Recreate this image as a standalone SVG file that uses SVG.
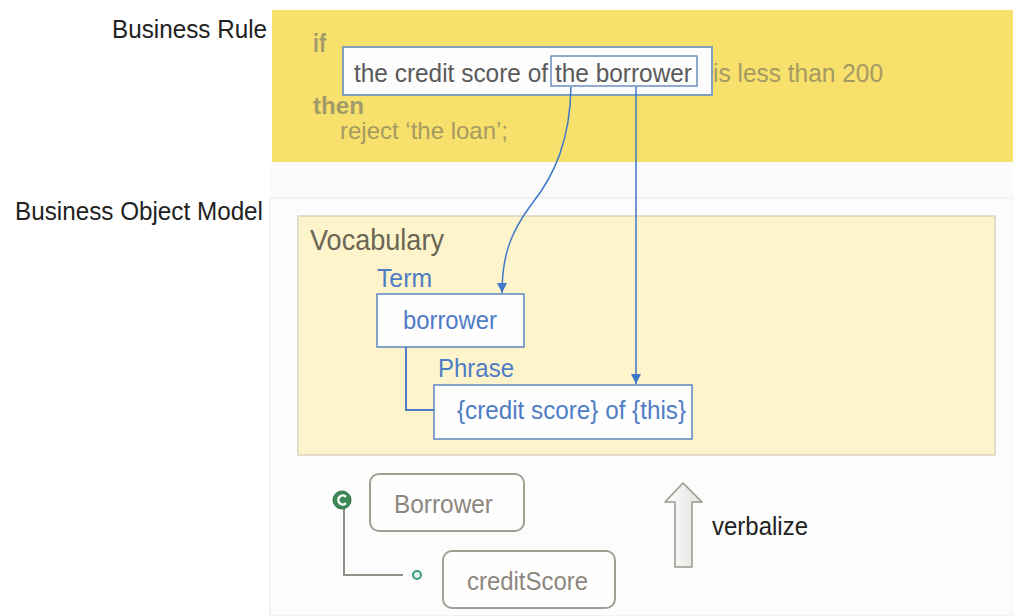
<svg xmlns="http://www.w3.org/2000/svg" width="1013" height="616" viewBox="0 0 1013 616">
<defs>
<style>
text{font-family:"Liberation Sans",Arial,sans-serif;font-size:25.5px}
.lbl{fill:#222}
.kw{fill:#a39a6a;font-weight:bold}
.rule{fill:#a59a62}
.dark{fill:#5a5a5a}
.blue{fill:#4f7cc6}
.grey{fill:#8c877f}
.vbox{fill:#fefefe;stroke:#5d86c4;stroke-width:1.5}
.gbox{fill:#fefefe;stroke:#a39d94;stroke-width:2}
.conn{fill:none;stroke:#3f78c8;stroke-width:1.5}
.gconn{fill:none;stroke:#938e86;stroke-width:2}
</style>
<marker id="ah" viewBox="0 0 10 10" refX="10" refY="5" markerWidth="10" markerHeight="10" markerUnits="userSpaceOnUse" orient="auto">
<path d="M0,0 L10,5 L0,10 z" fill="#3f78c8"/>
</marker>
<linearGradient id="ag" x1="0" y1="0" x2="1" y2="0">
<stop offset="0" stop-color="#ffffff"/>
<stop offset="1" stop-color="#e2e0dc"/>
</linearGradient>
</defs>
<rect width="1013" height="616" fill="#ffffff"/>
<rect x="270" y="162" width="743" height="36" fill="#fbfbfb"/>
<rect x="270" y="198" width="743" height="418" fill="#fcfcfc" stroke="#e9e9e9" stroke-width="1"/>

<g id="labels">
<text class="lbl" x="112" y="38" textLength="155" lengthAdjust="spacingAndGlyphs">Business Rule</text>
<text class="lbl" x="15" y="220" textLength="248" lengthAdjust="spacingAndGlyphs">Business Object Model</text>
</g>

<g id="business-rule">
<rect x="272" y="10" width="741" height="152" fill="#f7e06c"/>
<text class="kw" x="313" y="52" textLength="13" lengthAdjust="spacingAndGlyphs">if</text>
<rect x="343" y="47" width="369" height="48" fill="#fdfdfd" stroke="#7fa0bf" stroke-width="2"/>
<text class="dark" x="354" y="82" textLength="194" lengthAdjust="spacingAndGlyphs">the credit score of</text>
<text class="rule" x="713" y="82" textLength="170" lengthAdjust="spacingAndGlyphs">is less than 200</text>
<text class="kw" x="313" y="114" style="font-size:24px" textLength="51" lengthAdjust="spacingAndGlyphs">then</text>
<text class="rule" x="340" y="139" style="font-size:24px" textLength="168" lengthAdjust="spacingAndGlyphs">reject ‘the loan’;</text>
</g>

<g id="the-borrower">
<rect x="551" y="56" width="146" height="30" fill="#fdfdfd" stroke="#6c8fc0" stroke-width="1.5"/>
<text class="dark" x="555" y="82" textLength="137" lengthAdjust="spacingAndGlyphs">the borrower</text>
</g>

<g id="vocabulary">
<rect x="298" y="216" width="697" height="239" fill="#fdf4cb" stroke="#dad4bd" stroke-width="1.5"/>
<text x="310" y="250" style="font-size:29px;fill:#6b6654" textLength="134" lengthAdjust="spacingAndGlyphs">Vocabulary</text>
</g>

<g id="term">
<text class="blue" x="377" y="287" textLength="55" lengthAdjust="spacingAndGlyphs">Term</text>
<rect class="vbox" x="377" y="294" width="147" height="53"/>
<text class="blue" x="403" y="329" textLength="94" lengthAdjust="spacingAndGlyphs">borrower</text>
</g>

<g id="phrase">
<text class="blue" x="438" y="377" textLength="76" lengthAdjust="spacingAndGlyphs">Phrase</text>
<rect class="vbox" x="434" y="385" width="258" height="54"/>
<text class="blue" x="457" y="419" textLength="229" lengthAdjust="spacingAndGlyphs">{credit score} of {this}</text>
</g>

<g id="borrower-class">
<circle cx="342" cy="500" r="9" fill="#3d8a58" stroke="#2c6e44" stroke-width="1"/>
<path d="M346,496.8 A4.5,4.5 0 1 0 346,503.2" fill="none" stroke="#ffffff" stroke-width="2.4"/>
<rect class="gbox" x="370" y="474" width="154" height="57" rx="9"/>
<text class="grey" x="394" y="513" textLength="99" lengthAdjust="spacingAndGlyphs">Borrower</text>
</g>

<g id="creditscore-attr">
<circle cx="417" cy="575" r="4" fill="#e9f4ef" stroke="#3a9a7c" stroke-width="2"/>
<rect class="gbox" x="443" y="551" width="172" height="57" rx="9"/>
<text class="grey" x="467" y="590" textLength="121" lengthAdjust="spacingAndGlyphs">creditScore</text>
</g>

<g id="verbalize">
<path d="M683,483 L702,502 L692,502 L692,567 L675,567 L675,502 L665,502 Z" fill="url(#ag)" stroke="#9a958e" stroke-width="1.5" stroke-linejoin="round"/>
<text x="712" y="535" fill="#222" textLength="96" lengthAdjust="spacingAndGlyphs">verbalize</text>
</g>

<g id="connectors">
<path class="conn" d="M571,87 C570,140 555,175 531,205 C511,232 502,255 502,293" marker-end="url(#ah)"/>
<path class="conn" d="M636,87 L636,384" marker-end="url(#ah)"/>
<path d="M406,347 L406,410 L434,410" fill="none" stroke="#4f7cc6" stroke-width="2"/>
<path class="gconn" d="M344,509 L344,575 L403,575"/>
</g>
</svg>
